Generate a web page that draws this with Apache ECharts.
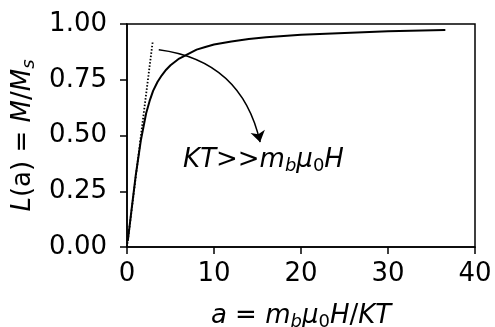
<!DOCTYPE html>
<html>
<head>
<meta charset="utf-8">
<script src="https://cdn.jsdelivr.net/npm/echarts@6/dist/echarts.min.js"></script>
<style>
  html, body { margin: 0; padding: 0; background: #fff; }
  #chart { width: 495px; height: 327px; }
</style>
</head>
<body>
<div id="chart"></div>
<script>
// Langevin magnetisation curve L(a) vs reduced field a
const curveA = [0.1, 0.5, 1.0, 1.6, 2.2, 2.6, 3.0, 3.5, 4.0, 4.5, 5.0, 6.0, 7.0, 8.0, 9.0, 10, 12, 14, 16, 20, 25, 30, 36.5];
const curveL = [0.03, 0.16, 0.32, 0.48, 0.60, 0.655, 0.70, 0.74, 0.77, 0.795, 0.815, 0.845, 0.865, 0.885, 0.897, 0.908, 0.922, 0.933, 0.941, 0.952, 0.960, 0.967, 0.973];

// initial-slope (low field) tangent
const tangentA = [0, 2.95];
const tangentL = [0, 0.92];

// annotation arrow: start and tip, in data units
const arrowFrom = [3.65, 0.885];
const arrowTo = [15.3, 0.47];
// annotation text anchor (left edge, vertical centre)
const notePos = [6.45, 0.387];

const xTicks = [0, 10, 20, 30, 40];
const yTicks = [0, 0.25, 0.5, 0.75, 1.0];

const FONT = 'DejaVu Sans';
const FS = 26, SUB = 18;
const rich = {
  i: { fontFamily: FONT, fontStyle: 'italic', fontSize: FS, color: '#000', verticalAlign: 'middle', lineHeight: 30 },
  r: { fontFamily: FONT, fontSize: FS, color: '#000', verticalAlign: 'middle', lineHeight: 30 },
  si: { fontFamily: FONT, fontStyle: 'italic', fontSize: SUB, color: '#000', verticalAlign: 'bottom', lineHeight: 13 },
  sr: { fontFamily: FONT, fontSize: SUB, color: '#000', verticalAlign: 'bottom', lineHeight: 13 }
};

const chart = echarts.init(document.getElementById('chart'), null, { renderer: 'canvas' });

chart.setOption({
  animation: false,
  backgroundColor: '#fff',
  grid: {
    left: 127, right: 20, top: 24, bottom: 80,
    containLabel: false, outerBoundsMode: 'none',
    show: true, borderColor: '#000', borderWidth: 1.5, backgroundColor: 'transparent'
  },
  xAxis: {
    type: 'value', min: xTicks[0], max: xTicks[xTicks.length - 1], interval: 10,
    splitLine: { show: false },
    axisLine: { show: true, onZero: false, lineStyle: { color: '#000', width: 1.5 } },
    axisTick: { show: true, inside: false, length: 7, lineStyle: { color: '#000', width: 1.5 } },
    axisLabel: { color: '#000', fontFamily: FONT, fontSize: FS, margin: 14 },
    name: '{i|a}{r| = }{i|m}{si|b}{i|μ}{sr|0}{i|H}{r|/}{i|KT}',
    nameLocation: 'middle', nameGap: 54,
    nameTextStyle: { rich: rich }
  },
  yAxis: {
    type: 'value', min: yTicks[0], max: yTicks[yTicks.length - 1], interval: 0.25,
    splitLine: { show: false },
    axisLine: { show: true, onZero: false, lineStyle: { color: '#000', width: 1.5 } },
    axisTick: { show: true, inside: false, length: 7, lineStyle: { color: '#000', width: 1.5 } },
    axisLabel: { color: '#000', fontFamily: FONT, fontSize: FS, margin: 20, formatter: v => v.toFixed(2) },
    name: '{i|L}{r|(a) = }{i|M}{r|/}{i|M}{si|s}',
    nameLocation: 'middle', nameGap: 88, nameRotate: 90,
    nameTextStyle: { rich: rich }
  },
  series: [
    {
      type: 'line', data: tangentA.map((a, k) => [a, tangentL[k]]),
      showSymbol: false, symbol: 'none',
      lineStyle: { color: '#000', width: 1.8, type: [1.5, 1.8] }
    },
    {
      type: 'line', data: curveA.map((a, k) => [a, curveL[k]]),
      showSymbol: false, symbol: 'none', smooth: false,
      lineStyle: { color: '#000', width: 2, cap: 'round', join: 'round' }
    },
    {
      type: 'lines', coordinateSystem: 'cartesian2d',
      data: [{ coords: [arrowFrom, arrowTo] }],
      symbol: ['none', 'arrow'], symbolSize: [0, 11],
      lineStyle: { color: '#000', width: 1.5, curveness: 0.35, opacity: 1 }
    },
    {
      type: 'scatter', symbolSize: 0, data: [notePos],
      itemStyle: { opacity: 1 },
      label: {
        show: true, position: 'right', distance: 0, color: '#000', opacity: 1,
        formatter: '{i|KT}{r|>>}{i|m}{si|b}{i|μ}{sr|0}{i|H}',
        rich: rich
      }
    }
  ]
});
</script>
</body>
</html>
